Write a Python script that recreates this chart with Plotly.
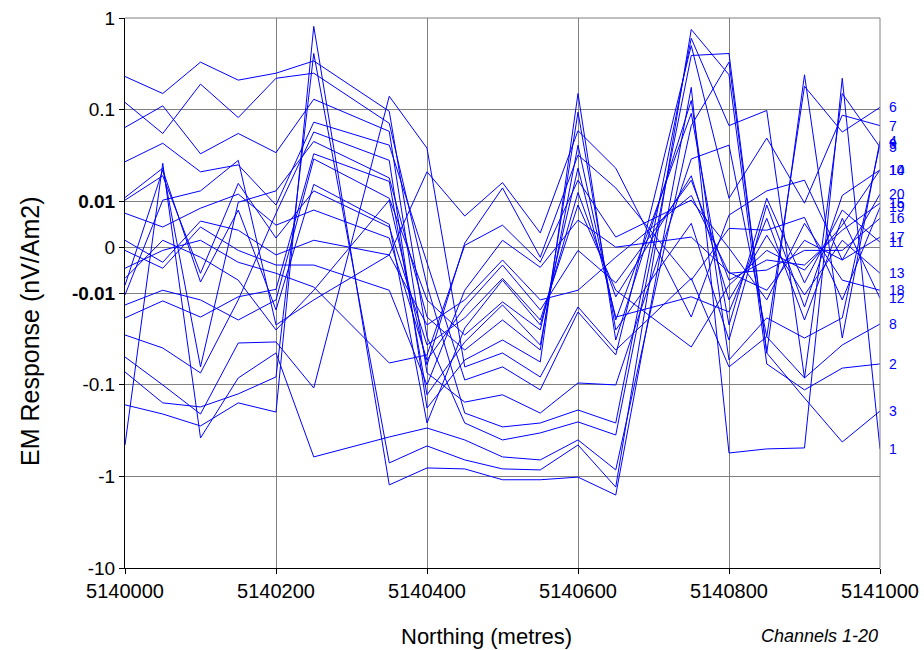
import numpy as np
import plotly.graph_objects as go

northing = [5140000, 5140050, 5140100, 5140150, 5140200, 5140250, 5140350, 5140400,
            5140450, 5140500, 5140550, 5140600, 5140650, 5140750, 5140800, 5140850,
            5140900, 5140950, 5141000]

ch1 = [-0.166, -0.209, -0.282, -0.158, -0.199, 0.81, -1.24, -0.81, -0.83, -1.09, -1.09, -1.02, -1.6, 0.175, -0.556, -0.502, -0.49, 0.22, -0.502]
ch2 = [-0.0727, -0.158, -0.175, -0.126, -0.0824, 0.41, -0.714, -0.466, -0.662, -0.83, -0.851, -0.455, -1.31, 0.75, 0.24, -0.0594, -0.114, -0.066, -0.0594]
ch3 = [-0.455, 0.026, -0.381, -0.0845, -0.0451, -0.614, -0.372, -0.297, -0.401, -0.614, -0.662, -0.401, -0.851, 0.067, 0.33, -0.0451, -0.14, -0.422, -0.194]
ch4 = [0.23, 0.15, 0.33, 0.21, 0.25, 0.34, 0.096, -0.030, -0.262, -0.401, -0.336, -0.255, -0.354, 0.39, 0.41, -0.0451, 0.24, -0.031, 0.046]
ch5 = [0.12, 0.055, 0.19, 0.082, 0.22, 0.25, 0.071, -0.0083, -0.204, -0.289, -0.262, -0.189, -0.262, 0.60, 0.067, 0.098, -0.0845, 0.15, 0.039]
ch6 = [0.064, 0.11, 0.033, 0.055, 0.034, 0.13, 0.058, -0.0745, -0.155, -0.129, -0.204, -0.0958, -0.1007, 0.029, 0.041, -0.030, 0.18, 0.057, 0.106]
ch7 = [0.027, 0.043, 0.021, 0.025, 0.0092, 0.073, 0.041, -0.0033, -0.089, -0.064, -0.114, -0.0161, -0.0474, 0.50, 0.0108, 0.049, 0.0096, 0.087, 0.067]
ch8 = [-0.0499, -0.1007, -0.209, -0.0351, -0.0342, -0.1087, 0.14, 0.038, -0.064, -0.0451, -0.0824, -0.0142, -0.0419, -0.0068, -0.064, -0.030, -0.0845, -0.0369, -0.0218]
ch9 = [-0.0287, -0.0398, -0.0745, -0.0119, 0.0074, 0.057, 0.028, -0.18, -0.0538, -0.0326, -0.0565, 0.15, -0.0326, 0.126, -0.0538, -0.0187, -0.031, -0.0187, 0.042]
ch10 = [0.011, 0.023, -0.064, 0.0098, 0.013, 0.045, 0.018, -0.0183, -0.0419, -0.0197, -0.0419, 0.094, -0.0253, 0.0052, -0.0326, 0.0092, -0.0142, 0.0116, 0.022]
ch11 = [-0.0187, -0.0122, -0.0183, -0.011, -0.0092, 0.033, 0.0165, -0.129, -0.0342, -0.0135, -0.0369, 0.041, -0.0197, 0.091, -0.0223, 0.0108, -0.0078, 0.0081, 0.0011]
ch12 = [-0.0135, -0.0094, -0.0119, -0.0197, -0.0119, 0.029, 0.0108, -0.0119, -0.0287, -0.0125, -0.0253, 0.023, -0.0183, -0.011, -0.0161, 0.0063, -0.0197, 0.0063, -0.0114]
ch13 = [-0.0083, 0.022, -0.0076, 0.0081, -0.0153, 0.0153, 0.005, -0.262, -0.0241, -0.0072, -0.0223, 0.0125, -0.011, 0.019, -0.0119, 0.0026, -0.0105, 0.0015, -0.0057]
ch14 = [0.0103, 0.019, -0.0057, 0.0157, 0.002, 0.013, 0.0044, -0.0369, -0.0187, -0.0068, -0.0197, 0.0092, -0.0094, -0.0388, -0.0083, -0.0007, -0.005, 0.0048, 0.022]
ch15 = [0.0074, 0.0044, 0.0085, 0.012, 0.0048, 0.0081, 0.002, -0.0538, -0.0142, -0.0039, -0.0153, -0.0007, -0.0078, 0.017, -0.0072, -0.0028, -0.0039, 0.0037, 0.0096]
ch16 = [0.0015, -0.0033, 0.0057, 0.0037, -0.0017, 0.0015, -0.0017, -0.0223, -0.0119, -0.0028, -0.0119, -0.0094, -0.0022, 0.0116, -0.0057, -0.005, -0.0007, -0.0007, 0.0063]
ch17 = [-0.0007, -0.0046, 0.0044, -0.0007, -0.0039, -0.0039, -0.0094, -0.1007, -0.0094, 0.0015, -0.0044, 0.0059, 0.0, 0.0022, -0.0055, -0.0094, 0.0015, -0.0028, 0.0022]
ch18 = [-0.0046, -0.0007, 0.0015, -0.0033, -0.0057, -0.0087, -0.058, -0.0474, 0.0004, 0.0048, -0.0033, 0.017, 0.0022, 0.0103, -0.0002, -0.0119, 0.0052, -0.0072, -0.0094]
ch19 = [-0.0068, 0.0015, -0.0022, -0.0072, -0.0253, -0.0094, 0.0103, -0.061, 0.0009, 0.014, -0.0022, 0.032, 0.014, -0.0072, 0.0041, 0.0037, 0.0065, -0.0119, 0.0087]
ch20 = [-0.0105, 0.0103, 0.013, 0.028, -0.0223, -0.0119, -0.0017, 0.021, 0.0068, 0.016, 0.0031, 0.059, 0.023, -0.0183, 0.007, 0.013, 0.017, -0.0028, 0.012]

channels = [ch1, ch2, ch3, ch4, ch5, ch6, ch7, ch8, ch9, ch10,
            ch11, ch12, ch13, ch14, ch15, ch16, ch17, ch18, ch19, ch20]
channel_names = [str(i) for i in range(1, 21)]

y_tick_values = [1, 0.1, 0.01, 0, -0.01, -0.1, -1, -10]
y_tick_labels = ["1", "0.1", "<b>0.01</b>", "0", "<b>-0.01</b>", "-0.1", "-1", "-10"]
x_tick_values = [5140000, 5140200, 5140400, 5140600, 5140800, 5141000]
x_tick_labels = ["5140000", "5140200", "5140400", "5140600", "5140800", "5141000"]

LIN = 0.01  # linear threshold of the symmetric log scale


def symlog(v):
    v = np.asarray(v, dtype=float)
    a = np.abs(v)
    lin = v / (2 * LIN)
    lg = np.sign(v) * (np.log10(np.maximum(a, 1e-12) / LIN) + 0.5)
    return np.where(a < LIN, lin, lg)


BLUE = "#0000FF"
FONT = "Liberation Sans, Arial, sans-serif"

fig = go.Figure()
for name, vals in zip(channel_names, channels):
    fig.add_trace(go.Scatter(
        x=northing, y=symlog(vals), mode="lines", name=name,
        line=dict(color=BLUE, width=1), showlegend=False,
        customdata=vals, hovertemplate="Ch " + name + ": %{customdata}<extra></extra>"))

annotations = []
for name, vals in zip(channel_names, channels):
    annotations.append(dict(
        x=northing[-1], y=float(symlog(vals[-1])), xref="x", yref="y",
        text=name, showarrow=False, xanchor="left", yanchor="middle", xshift=7,
        font=dict(family=FONT, size=14, color=BLUE)))

# axis titles (placed like the original, slightly off-centre)
annotations.append(dict(
    x=(486 - 125) / 755, y=0, xref="paper", yref="paper", yshift=-68,
    xanchor="center", yanchor="middle", text="Northing (metres)", showarrow=False,
    font=dict(family=FONT, size=22, color="#000000")))
annotations.append(dict(
    x=0, y=(568 - 331) / 550, xref="paper", yref="paper", xshift=-95,
    xanchor="center", yanchor="middle", text="EM Response (nV/Am2)", textangle=-90,
    showarrow=False, font=dict(family=FONT, size=25, color="#000000")))
annotations.append(dict(
    x=1, y=0, xref="paper", yref="paper", yshift=-68, xanchor="right", yanchor="middle",
    text="<i>Channels 1-20</i>", showarrow=False,
    font=dict(family=FONT, size=18, color="#000000")))

fig.update_layout(
    width=924, height=650,
    margin=dict(l=125, r=44, t=18, b=82, autoexpand=False),
    paper_bgcolor="white", plot_bgcolor="white",
    font=dict(family=FONT, size=20, color="#000000"),
    annotations=annotations,
    shapes=[
        dict(type="line", xref="paper", yref="paper", x0=0, x1=1, y0=1, y1=1,
             line=dict(color="#808080", width=1)),
        dict(type="line", xref="paper", yref="paper", x0=1, x1=1, y0=0, y1=1,
             line=dict(color="#808080", width=1)),
    ],
    xaxis=dict(
        range=[5140000, 5141000], tickvals=x_tick_values, ticktext=x_tick_labels,
        showgrid=True, gridcolor="#808080", gridwidth=1, zeroline=False,
        showline=True, linecolor="#000000", linewidth=1,
        ticks="outside", ticklen=5, tickcolor="#000000",
        tickfont=dict(size=20), automargin=False,
    ),
    yaxis=dict(
        range=[-3.5, 2.5], tickvals=[float(symlog(v)) for v in y_tick_values],
        ticktext=y_tick_labels,
        showgrid=True, gridcolor="#808080", gridwidth=1, zeroline=False,
        showline=True, linecolor="#000000", linewidth=1,
        ticks="outside", ticklen=5, tickcolor="#000000",
        tickfont=dict(size=19), automargin=False,
    ),
)

fig.write_html("out.html")
